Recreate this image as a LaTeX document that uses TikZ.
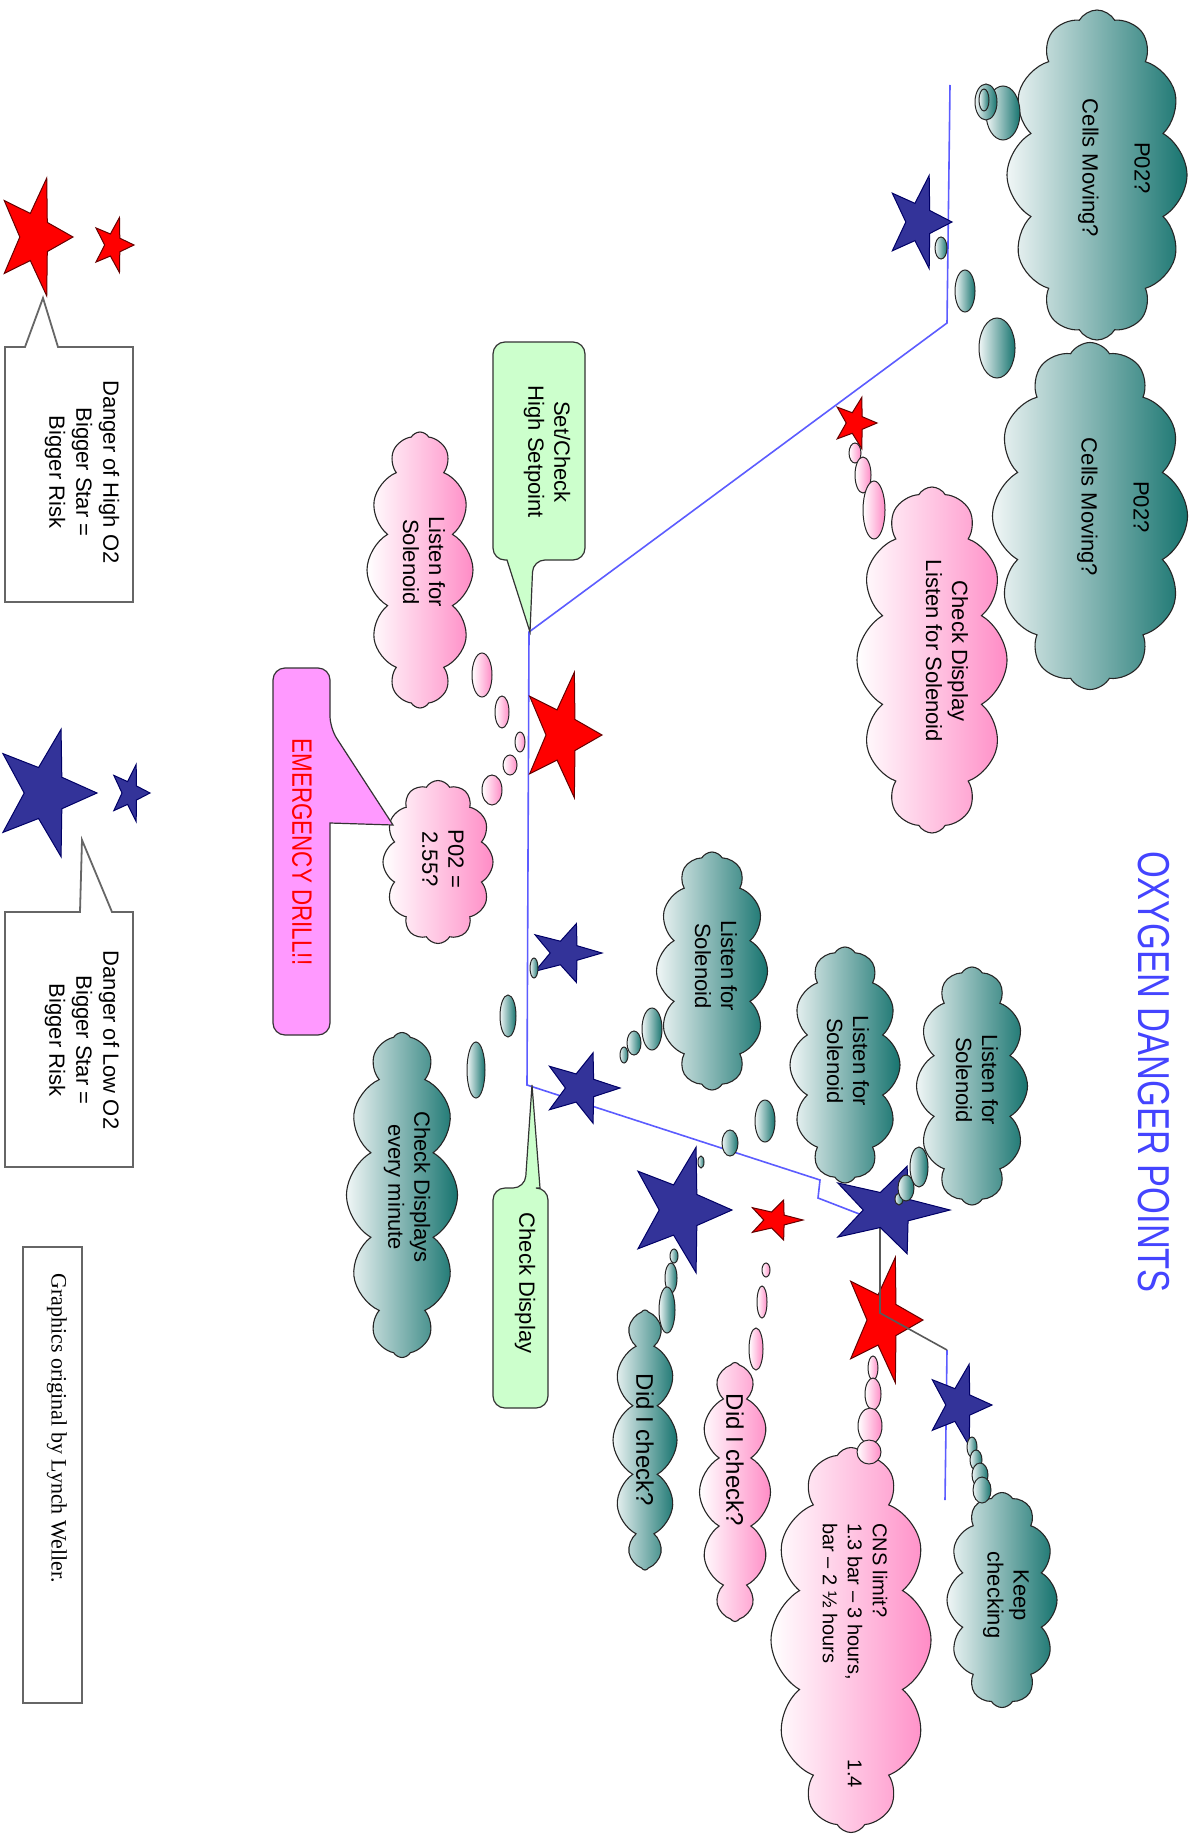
\documentclass[tikz,border=0pt]{standalone}
\usepackage{fontspec}
\usepackage{graphicx}
\setmainfont{Liberation Sans}
\newfontfamily\creditfont{Liberation Serif}
\usetikzlibrary{shapes.symbols}
\definecolor{pinkR}{HTML}{FF8CC6}
\definecolor{tealL}{HTML}{F0F6F6}
\definecolor{tealR}{HTML}{17746F}
\definecolor{starRed}{HTML}{FF0000}
\definecolor{starBlue}{HTML}{333399}
\definecolor{lineBlue}{HTML}{5C5CFF}
\definecolor{callGreen}{HTML}{CCFFCC}
\definecolor{callMag}{HTML}{FF99FF}
\definecolor{titleBlue}{HTML}{4444FF}
\newcommand\dangerstar[5]{%
  \draw[#5, shift={(#1,#2)}] (#3,0)
    -- ({0.3236*#3},{0.2352*#4}) -- ({0.309*#3},{0.951*#4})
    -- ({-0.1236*#3},{0.3804*#4}) -- ({-0.809*#3},{0.588*#4})
    -- ({-0.4*#3},0) -- ({-0.809*#3},{-0.588*#4})
    -- ({-0.1236*#3},{-0.3804*#4}) -- ({0.309*#3},{-0.951*#4})
    -- ({0.3236*#3},{-0.2352*#4}) -- cycle;}
\newcommand\tbub[4]{\path[tealbub] (#1,#2) ellipse [x radius=#3, y radius=#4];}
\newcommand\pbub[4]{\path[pinkbub] (#1,#2) ellipse [x radius=#3, y radius=#4];}
\tikzset{
  tealcloud/.style={cloud, cloud puffs=12, cloud puff arc=120, cloud ignores aspect,
    draw=black!85, line width=1.1pt, left color=tealL, right color=tealR, inner sep=0pt},
  pinkcloud/.style={cloud, cloud puffs=12, cloud puff arc=120, cloud ignores aspect,
    draw=black!85, line width=1.1pt, left color=white, right color=pinkR, inner sep=0pt},
  tealbub/.style={draw=black!85, line width=1pt, left color=tealL, right color=tealR},
  pinkbub/.style={draw=black!85, line width=1pt, left color=white, right color=pinkR},
  redstar/.style={fill=starRed, draw=black!60!red, line width=1pt},
  bluestar/.style={fill=starBlue, draw=black!60!blue, line width=1pt},
  blueline/.style={draw=lineBlue, line width=1.6pt},
  greyline/.style={draw=black!65, line width=1.6pt},
  greencall/.style={fill=callGreen, draw=black!80, line width=1.2pt},
  magcall/.style={fill=callMag, draw=black!80, line width=1.2pt},
  legendbox/.style={fill=white, draw=black!60, line width=1.8pt},
  lbl/.style={rotate=-90, align=center, inner sep=0pt, font=\fontsize{22}{26}\selectfont},
}
\begin{document}
\begin{tikzpicture}[x=1pt,y=-1pt]
\useasboundingbox (0,0) rectangle (1200,1843);
\fill[white] (0,0) rectangle (1200,1843);

% route line
\coordinate (r0) at (950,85);
\coordinate (r1) at (947,323);
\coordinate (r2) at (529,632);
\coordinate (r3) at (527,1085);
\coordinate (r4) at (820,1180);
\coordinate (r5) at (818,1198);
\coordinate (r6) at (880,1222);
\coordinate (r7) at (880,1313);
\coordinate (r8) at (947,1350);
\coordinate (r9) at (945,1500);
\draw[blueline] (r0) -- (r1) -- (r2) -- (r3) -- (r4) -- (r5) -- (r6);
\draw[blueline] (r8) -- (r9);

% clouds
\node[tealcloud, minimum width=180, minimum height=330] (cloudA) at (1097,175) {};
\node[tealcloud, minimum width=195, minimum height=347] (cloudB) at (1090,516) {};
\node[pinkcloud, minimum width=150, minimum height=346] (cloudC) at (932,660) {};
\node[pinkcloud, minimum width=106, minimum height=276] (cloudD) at (420,570) {};
\node[pinkcloud, minimum width=110, minimum height=163] (cloudE) at (438,862) {};
\node[tealcloud, minimum width=111, minimum height=325] (cloudF) at (402,1195) {};
\node[tealcloud, minimum width=111, minimum height=238] (cloudG) at (712,971) {};
\node[tealcloud, minimum width=110, minimum height=236] (cloudH) at (845,1065) {};
\node[tealcloud, minimum width=111, minimum height=238] (cloudI) at (972,1086) {};
\node[tealcloud, minimum width=64, minimum height=260] (cloudJ) at (645,1440) {};
\node[pinkcloud, minimum width=71, minimum height=259] (cloudK) at (735,1492) {};
\node[pinkcloud, minimum width=160, minimum height=385] (cloudL) at (851,1640) {};
\node[tealcloud, minimum width=110, minimum height=215] (cloudM) at (1002,1600) {};

% stars
\dangerstar{35}{237}{38}{62}{redstar}
\dangerstar{113}{245}{21}{29}{redstar}
\dangerstar{45}{793}{52}{67}{bluestar}
\dangerstar{130}{793}{20}{30}{bluestar}
\dangerstar{919}{222}{33}{49}{bluestar}
\dangerstar{855}{423}{22}{27}{redstar}
\dangerstar{562}{735}{40}{66}{redstar}
\dangerstar{565}{953}{37}{31}{bluestar}
\dangerstar{581}{1088}{39}{37}{bluestar}
\dangerstar{680}{1210}{52}{66}{bluestar}
\dangerstar{775}{1220}{28}{21}{redstar}
\dangerstar{883}{1320}{40}{66}{redstar}
\dangerstar{959}{1405}{33}{43}{bluestar}
\draw[greyline] (r6) -- (r7) -- (r8);
\dangerstar{888}{1210}{62}{46}{bluestar}

% thought bubbles
\tbub{1003}{113}{17}{27}\tbub{986}{102}{11}{18}\tbub{984}{100}{5}{11}
\tbub{941}{248}{6}{11}\tbub{965}{291}{10}{21}\tbub{997}{348}{18}{30}
\pbub{855}{453}{6}{10}\pbub{863}{475}{8}{18}\pbub{874}{510}{11}{29}
\pbub{482}{675}{10}{22}\pbub{502}{712}{7}{16}\pbub{520}{742}{5}{10}
\pbub{510}{765}{7}{10}\pbub{492}{790}{10}{15}
\tbub{534}{968}{4}{10}\tbub{508}{1016}{8}{21}\tbub{476}{1070}{9}{28}
\tbub{624}{1055}{4}{8}\tbub{634}{1043}{7}{12}\tbub{652}{1029}{10}{21}
\tbub{701}{1162}{3}{6}\tbub{730}{1143}{8}{13}\tbub{765}{1121}{10}{21}
\tbub{899}{1199}{4}{6}\tbub{906}{1188}{8}{13}\tbub{919}{1167}{9}{20}
\tbub{674}{1256}{4}{7}\tbub{671}{1278}{6}{15}\tbub{667}{1310}{8}{23}
\pbub{766}{1270}{4}{7}\pbub{762}{1302}{5}{16}\pbub{756}{1349}{7}{21}
\pbub{873}{1368}{5}{12}\pbub{873}{1394}{8}{16}\pbub{870}{1426}{12}{18}\pbub{869}{1452}{12}{12}
\tbub{972}{1447}{5}{10}\tbub{976}{1460}{6}{10}\tbub{980}{1475}{8}{12}\tbub{982}{1490}{9}{13}

% callouts
\draw[greencall, rounded corners=12] (585,450) -- (585,560) -- (533,560) [sharp corners] -- (530,632) -- (507,560) [rounded corners=12] -- (493,560) -- (493,342) -- (585,342) -- cycle;
\draw[greencall, rounded corners=12] (548,1300) -- (548,1408) -- (493,1408) -- (493,1188) -- (525,1188) [sharp corners] -- (532,1085) -- (540,1188) [rounded corners=12] -- (548,1188) -- cycle;
\draw[magcall, rounded corners=12] (300,668) -- (330,668) -- (330,728) [sharp corners] -- (393,825) -- (330,823) [rounded corners=12] -- (330,1035) -- (273,1035) -- (273,668) -- cycle;
\draw[legendbox] (5,347) -- (25,347) -- (43,298) -- (58,347) -- (133,347) -- (133,602) -- (5,602) -- cycle;
\draw[legendbox] (5,912) -- (80,912) -- (82,840) -- (112,912) -- (133,912) -- (133,1167) -- (5,1167) -- cycle;
\draw[legendbox] (23,1247) rectangle (82,1703);

% texts
\node[lbl] (tA) at (1114,168) {P02?\\[26pt]Cells Moving?};
\node[lbl] (tB) at (1113,507) {P02?\\[26pt]Cells Moving?};
\node[lbl] (tC) at (947,651) {Check Display\\Listen for Solenoid};
\node[lbl] (tD) at (424,562) {Listen for\\Solenoid};
\node[lbl] (tE) at (443,859) {P02 =\\2.55?};
\node[lbl] (tF) at (407,1187) {Check Displays\\every minute};
\node[lbl] (tG) at (716,966) {Listen for\\Solenoid};
\node[lbl] (tH) at (848,1061) {Listen for\\Solenoid};
\node[lbl] (tI) at (977,1080) {Listen for\\Solenoid};
\node[lbl, font=\fontsize{24}{28}\selectfont] (tJ) at (645,1440) {Did I check?};
\node[lbl, font=\fontsize{24}{28}\selectfont] (tK) at (735,1460) {Did I check?};
\node[lbl, align=left, anchor=west, font=\fontsize{20}{25}\selectfont] (tL) at (855,1523) {CNS limit?\\1.3 bar – 3 hours,\hspace{80pt}1.4\\bar – 2 ½ hours};
\node[lbl] (tM) at (1006,1595) {Keep\\checking};
\node[lbl] (tK1) at (547,452) {Set/Check\\High Setpoint};
\node[lbl] (tK2) at (525,1283) {Check Display};
\node[lbl, text=red, font=\fontsize{28}{30}\selectfont] (tK3) at (302,852) {\scalebox{0.8}[1]{EMERGENCY DRILL!!}};
\node[lbl, font=\fontsize{22}{27}\selectfont] (leg1) at (82,472) {Danger of High O2\\Bigger Star =\\Bigger Risk};
\node[lbl, font=\fontsize{22}{27}\selectfont] (leg2) at (82,1040) {Danger of Low O2\\Bigger Star =\\Bigger Risk};
\node[lbl, font=\creditfont\fontsize{22}{26}\selectfont] (credit) at (57,1428) {Graphics original by Lynch Weller.};
\node[lbl, text=titleBlue, font=\fontsize{44.7}{50}\selectfont] (title) at (1154,1072) {\scalebox{0.77}[1]{OXYGEN DANGER POINTS}};
\end{tikzpicture}
\end{document}
